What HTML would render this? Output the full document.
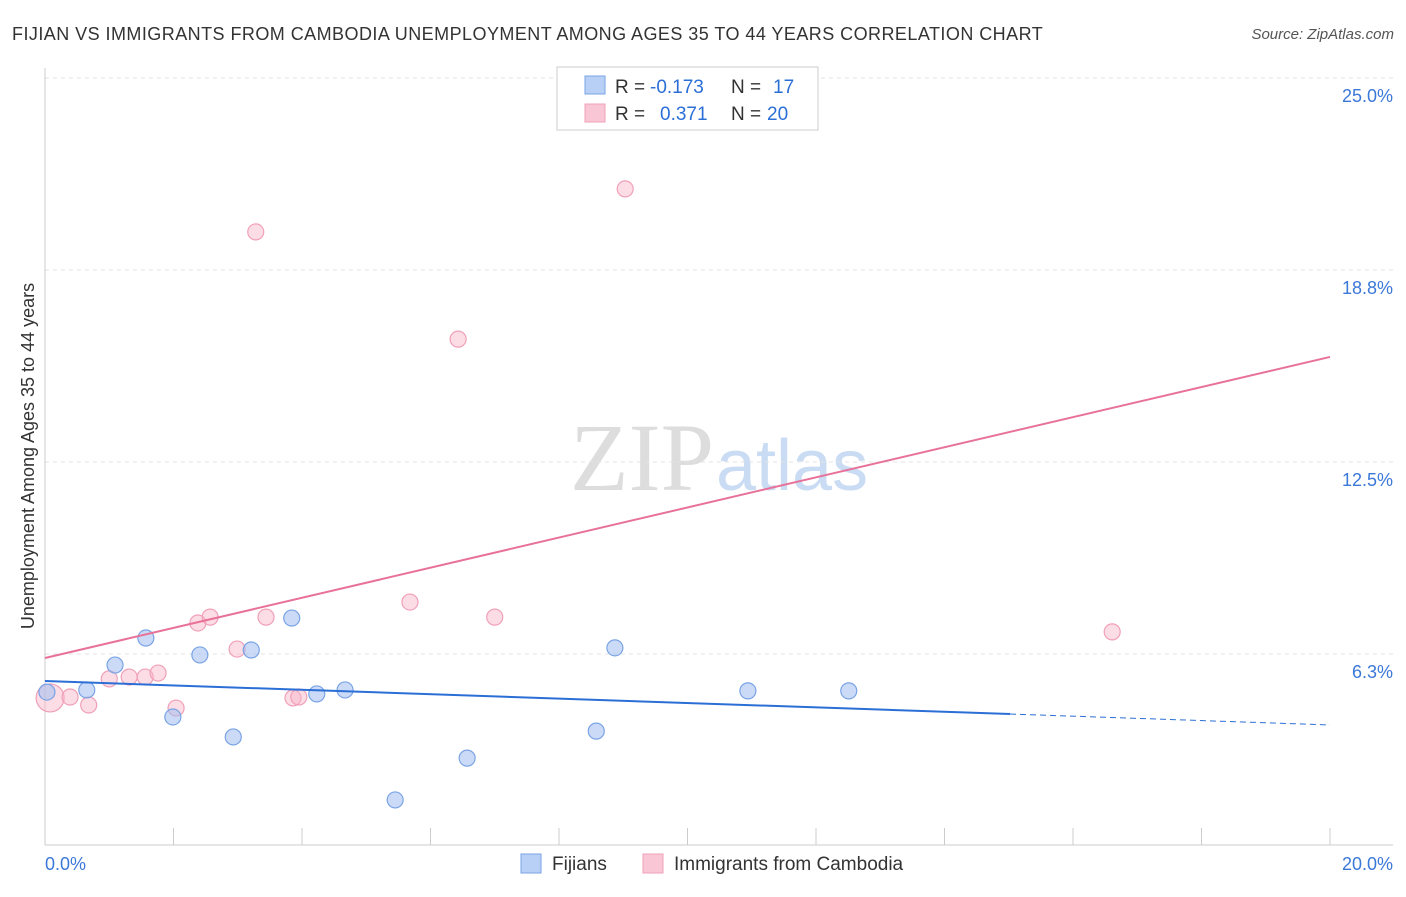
<!DOCTYPE html>
<html><head><meta charset="utf-8"><style>
body{margin:0;background:#fff;font-family:"Liberation Sans",sans-serif}
svg text{font-family:"Liberation Sans",sans-serif}
</style></head><body>
<svg id="c" width="1406" height="892">
<text x="12" y="40" font-size="18" fill="#333" letter-spacing="0.45">FIJIAN VS IMMIGRANTS FROM CAMBODIA UNEMPLOYMENT AMONG AGES 35 TO 44 YEARS CORRELATION CHART</text>
<text x="1394" y="39" font-size="15" fill="#555" font-style="italic" text-anchor="end">Source: ZipAtlas.com</text>
<text x="714" y="490" font-size="96" fill="#ddd" text-anchor="end" style="font-family:'Liberation Serif',serif">ZIP</text>
<text x="716" y="490" font-size="72" fill="#c9dcf3">atlas</text>
<text transform="translate(34,456) rotate(-90)" font-size="18" fill="#333" text-anchor="middle">Unemployment Among Ages 35 to 44 years</text>
<g id="grid"></g><g id="marks"></g>
<g>
<rect x="557" y="67" width="261" height="63" fill="#fff" stroke="#ccc"/>
<rect x="585" y="76" width="20" height="18" fill="#b8d0f5" stroke="#7aa3e5"/>
<rect x="585" y="104" width="20" height="18" fill="#f9c6d5" stroke="#f0a0b8"/>
<text x="615" y="93" font-size="19" fill="#333">R =</text>
<text x="650" y="93" font-size="19" fill="#2b6fd6">-0.173</text>
<text x="731" y="93" font-size="19" fill="#333">N =</text>
<text x="773" y="93" font-size="19" fill="#2b6fd6">17</text>
<text x="615" y="120" font-size="19" fill="#333">R =</text>
<text x="660" y="120" font-size="19" fill="#2b6fd6">0.371</text>
<text x="731" y="120" font-size="19" fill="#333">N =</text>
<text x="767" y="120" font-size="19" fill="#2b6fd6">20</text>
</g>
<g>
<rect x="521" y="854" width="20" height="19" fill="#b8d0f5" stroke="#7aa3e5"/>
<text x="552" y="870" font-size="19" fill="#333">Fijians</text>
<rect x="643" y="854" width="20" height="19" fill="#f9c6d5" stroke="#f0a0b8"/>
<text x="674" y="870" font-size="19" fill="#333">Immigrants from Cambodia</text>
</g>
</svg>
<script>
const yTicks=[6.25,12.5,18.75,25];
const yTickLabels=["6.3%","12.5%","18.8%","25.0%"];
const xTicks=[0,2,4,6,8,10,12,14,16,18,20];
const fijianX=[0.03,0.65,1.09,1.57,1.99,2.41,2.93,3.21,3.84,4.23,4.67,5.45,6.57,8.58,8.87,10.94,12.51];
const fijianY=[5.01,5.08,5.89,6.77,4.20,6.22,3.55,6.38,7.42,4.95,5.08,1.50,2.86,3.74,6.45,5.05,5.05];
const cambX=[0.08,0.39,0.68,1.00,1.31,1.56,1.76,2.04,2.38,2.57,2.99,3.28,3.44,3.86,3.95,5.68,6.43,7.00,9.03,16.61];
const cambY=[4.82,4.85,4.59,5.44,5.50,5.50,5.63,4.49,7.26,7.45,6.41,19.99,7.45,4.82,4.85,7.94,16.50,7.45,21.39,6.97];
const fijianTrend=[5.37,3.94]; const fijianSolidEnd=15.02;
const cambTrend=[6.12,15.92];
const X=v=>45+v*64.25, Y=v=>846-v*30.72;
const NS="http://www.w3.org/2000/svg";
function mk(t,a,p){const e=document.createElementNS(NS,t);for(const k in a)e.setAttribute(k,a[k]);p.appendChild(e);return e;}
const g=document.getElementById('grid'),m=document.getElementById('marks');
yTicks.forEach((v,i)=>{const l=mk('line',{x1:45,x2:1393,y1:Y(v),y2:Y(v),stroke:'#e3e3e3','stroke-dasharray':'4,4'},g);

const t=mk('text',{x:1393,y:Y(v)+24,'font-size':18,fill:'#3b78d8','text-anchor':'end'},g);t.textContent=yTickLabels[i];
});
let a=mk('line',{x1:45,x2:1393,y1:845,y2:845,stroke:'#ccc'},g);
a=mk('line',{x1:45,x2:45,y1:68,y2:845,stroke:'#ccc'},g);
xTicks.forEach(v=>{const l=mk('line',{x1:X(v),x2:X(v),y1:828,y2:845,stroke:'#ccc'},g);});
let t=mk('text',{x:45,y:870,'font-size':18,fill:'#3b78d8'},g);t.textContent='0.0%';
t=mk('text',{x:1393,y:870,'font-size':18,fill:'#3b78d8','text-anchor':'end'},g);t.textContent='20.0%';
cambX.forEach((v,i)=>{const c=mk('circle',{cx:X(v),cy:Y(cambY[i]),r:i==0?14:8,fill:'rgba(248,180,200,0.45)',stroke:'#f0a0b8','stroke-width':1.2},m);
});
fijianX.forEach((v,i)=>{const c=mk('circle',{cx:X(v),cy:Y(fijianY[i]),r:8,fill:'rgba(160,190,240,0.55)',stroke:'#7aa3e5','stroke-width':1.2},m);
});
const fy=x=>fijianTrend[0]+(fijianTrend[1]-fijianTrend[0])*x/20;
let l=mk('line',{x1:X(0),y1:Y(fy(0)),x2:X(fijianSolidEnd),y2:Y(fy(fijianSolidEnd)),stroke:'#2b6fd6','stroke-width':2},m);

l=mk('line',{x1:X(fijianSolidEnd),y1:Y(fy(fijianSolidEnd)),x2:X(20),y2:Y(fy(20)),stroke:'#2b6fd6','stroke-width':1,'stroke-dasharray':'6,4'},m);

l=mk('line',{x1:X(0),y1:Y(cambTrend[0]),x2:X(20),y2:Y(cambTrend[1]),stroke:'#e8719a','stroke-width':2},m);

</script>
</body></html>
